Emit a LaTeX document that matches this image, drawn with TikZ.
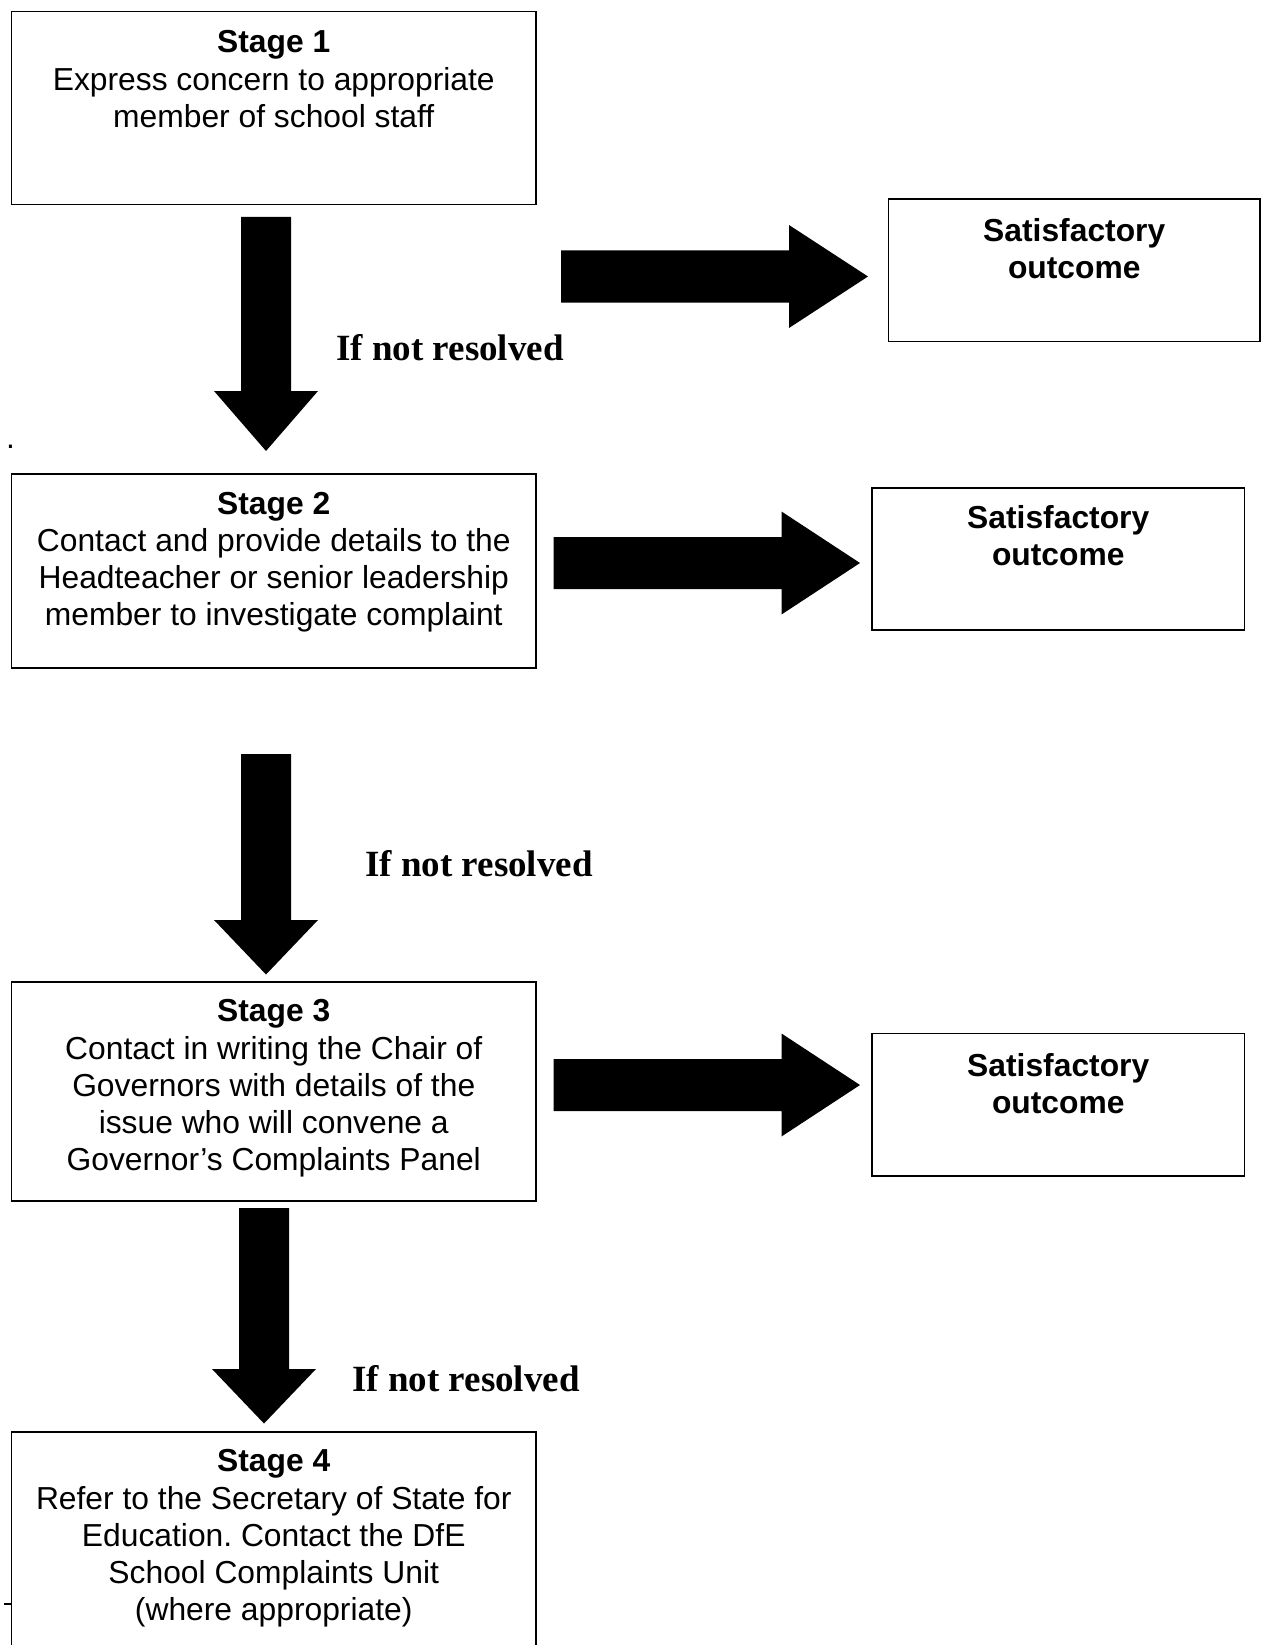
\documentclass[tikz,border=0pt]{standalone}
\usepackage{fontspec}
\setmainfont{Liberation Sans}
\newfontfamily\serifface{Liberation Serif}
\frenchspacing
\newcommand\blkdown[4]{\fill (#1-25,#2) -- (#1+25,#2) -- (#1+25,#3) -- (#1+52,#3) -- (#1,#4) -- (#1-52,#3) -- (#1-25,#3) -- cycle;}
\newcommand\blkright[4]{\fill (#1,#4-26) -- (#2,#4-26) -- (#2,#4-51.5) -- (#3,#4) -- (#2,#4+51.5) -- (#2,#4+26) -- (#1,#4+26) -- cycle;}
\begin{document}
\begin{tikzpicture}[x=1pt,y=-1pt,
  box/.style={draw, line width=1.5pt, rectangle, inner sep=0pt},
  body/.style={anchor=north, inner sep=0pt, align=center,
    font=\frenchspacing\fontsize{31.8}{37.1}\selectfont, execute at begin node=\strut},
  note/.style={anchor=base, inner sep=0pt,
    font=\serifface\bfseries\fontsize{37}{42}\selectfont}]
\useasboundingbox[fill=white] (0,0) rectangle (1264,1645);

% stage boxes
\node[box, minimum width=524.5, minimum height=193] (s1) at (273.75,108) {};
\node[box, minimum width=524.5, minimum height=194] (s2) at (273.75,571) {};
\node[box, minimum width=524.5, minimum height=219] (s3) at (273.75,1091.5) {};
\node[box, minimum width=524.5, minimum height=228] (s4) at (273.75,1546) {};

\node[body] (s1t) at (273.75,30.5) {\textbf{Stage 1}\\Express concern to appropriate\\member of school staff};
\node[body] (s2t) at (273.75,492) {\textbf{Stage 2}\\Contact and provide details to the\\Headteacher or senior leadership\\member to investigate complaint};
\node[body] (s3t) at (273.75,999.5) {\textbf{Stage 3}\\Contact in writing the Chair of\\Governors with details of the\\issue who will convene a\\Governor’s Complaints Panel};
\node[body] (s4t) at (273.75,1449.5) {\textbf{Stage 4}\\Refer to the Secretary of State for\\Education. Contact the DfE\\School Complaints Unit\\(where appropriate)};

% outcome boxes
\node[box, minimum width=371.5, minimum height=142.5] (o1) at (1074.25,270.25) {};
\node[box, minimum width=372.5, minimum height=142] (o2) at (1058.25,559) {};
\node[box, minimum width=372.5, minimum height=142.5] (o3) at (1058.25,1104.75) {};

\node[body] (o1t) at (1074.25,218.5) {\textbf{Satisfactory}\\\textbf{outcome}};
\node[body] (o2t) at (1058.25,505.5) {\textbf{Satisfactory}\\\textbf{outcome}};
\node[body] (o3t) at (1058.25,1053.5) {\textbf{Satisfactory}\\\textbf{outcome}};

% block arrows
\blkdown{266}{217}{391}{451}
\blkdown{266}{754}{920}{974.5}
\blkdown{264}{1208}{1369}{1423.5}
\blkright{561}{789}{868}{276.5}
\blkright{553.5}{781.5}{860}{563}
\blkright{553.5}{781.5}{860}{1085}

% labels
\node[note] (n1) at (450,360.3) {If not resolved};
\node[note] (n2) at (479,876) {If not resolved};
\node[note] (n3) at (466,1391) {If not resolved};

% stray marks
\node[anchor=base west, inner sep=0pt, font=\fontsize{31.8}{36.6}\selectfont] (dot) at (6,448) {.};
\draw[line width=1.5pt] (4,1604) -- (11,1604);
\end{tikzpicture}
\end{document}
